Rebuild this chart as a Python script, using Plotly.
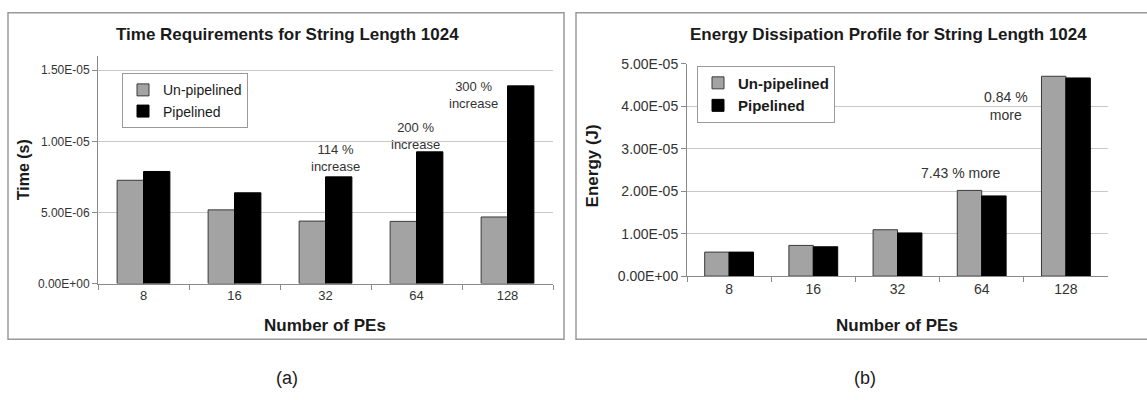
import plotly.graph_objects as go

W, H = 1147, 400

# ---------------- data ----------------
pes = ["8", "16", "32", "64", "128"]

time_unpipelined = [7.26e-6, 5.18e-6, 4.39e-6, 4.37e-6, 4.68e-6]
time_pipelined = [7.88e-6, 6.38e-6, 7.50e-6, 9.26e-6, 13.9e-6]

energy_unpipelined = [5.66e-6, 7.24e-6, 1.093e-5, 2.02e-5, 4.71e-5]
energy_pipelined = [5.66e-6, 6.92e-6, 1.018e-5, 1.89e-5, 4.67e-5]

time_tickvals = [0, 5e-6, 1e-5, 1.5e-5]
time_ticktext = ["0.00E+00", "5.00E-06", "1.00E-05", "1.50E-05"]
energy_tickvals = [0, 1e-5, 2e-5, 3e-5, 4e-5, 5e-5]
energy_ticktext = ["0.00E+00", "1.00E-05", "2.00E-05", "3.00E-05", "4.00E-05", "5.00E-05"]

series_names = ["Un-pipelined", "Pipelined"]

# ---------------- style ----------------
FONT = "Liberation Sans, Arial, sans-serif"
GRAY = "#a3a3a3"
BLACK = "#000000"
OUTLINE = "#3a3a3a"
GRID = "#c9c9c9"
AXIS = "#8a8a8a"
TXT = "#1a1a1a"


def px(x):
    return x / W


def py(y):
    return 1 - y / H


def cat(label):
    return pes.index(label)


fig = go.Figure()

fig.add_trace(go.Bar(x=pes, y=time_unpipelined, name=series_names[0], xaxis="x", yaxis="y",
                     marker=dict(color=GRAY, line=dict(color=OUTLINE, width=1)), legend="legend"))
fig.add_trace(go.Bar(x=pes, y=time_pipelined, name=series_names[1], xaxis="x", yaxis="y",
                     marker=dict(color=BLACK, line=dict(color=BLACK, width=1)), legend="legend"))
fig.add_trace(go.Bar(x=pes, y=energy_unpipelined, name=series_names[0], xaxis="x2", yaxis="y2",
                     marker=dict(color=GRAY, line=dict(color=OUTLINE, width=1)), legend="legend2"))
fig.add_trace(go.Bar(x=pes, y=energy_pipelined, name=series_names[1], xaxis="x2", yaxis="y2",
                     marker=dict(color=BLACK, line=dict(color=BLACK, width=1)), legend="legend2"))

common_x = dict(type="category", showline=True, linecolor=AXIS, linewidth=1,
                ticks="outside", ticklen=5, tickcolor=AXIS, tickson="boundaries",
                showgrid=False, zeroline=False, range=[-0.5, len(pes) - 0.5], tickangle=0)
common_y = dict(showline=True, linecolor=AXIS, linewidth=1, ticks="outside", ticklen=5,
                tickcolor=AXIS, showgrid=True, gridcolor=GRID, gridwidth=1, zeroline=False)


def paper_text(text, x, y, size, angle=0, color=TXT):
    return dict(text=text, x=px(x), y=py(y), xref="paper", yref="paper",
                xanchor="center", yanchor="middle", showarrow=False, textangle=angle,
                font=dict(size=size, color=color))


def data_text(text, label, y, axis, shift, size):
    return dict(text=text, x=cat(label), y=y, xref="x" + axis, yref="y" + axis,
                xanchor="center", yanchor="middle", xshift=shift, showarrow=False,
                font=dict(size=size, color="#333"))


annotations = [
    paper_text("<b>Time Requirements for String Length 1024</b>", 287, 28, 17),
    paper_text("<b>Energy Dissipation Profile for String Length 1024</b>", 888, 28, 17),
    paper_text("<b>Time (s)</b>", 23, 169, 16, angle=-90),
    paper_text("<b>Energy (J)</b>", 592, 165, 17, angle=-90),
    paper_text("<b>Number of PEs</b>", 325, 331, 17),
    paper_text("<b>Number of PEs</b>", 897, 331, 17),
    paper_text("(a)", 287, 385, 18),
    paper_text("(b)", 865, 385, 18),
    data_text("114 %<br>increase", "32", 8.84e-6, "", 10, 13),
    data_text("200 %<br>increase", "64", 1.034e-5, "", -1, 13),
    data_text("300 %<br>increase", "128", 1.328e-5, "", -34, 13),
    data_text("0.84 %<br>more", "128", 4.02e-5, "2", -60, 14),
    data_text("7.43 % more", "64", 2.43e-5, "2", -21, 14),
]

shapes = [
    dict(type="rect", xref="paper", yref="paper", x0=px(8), x1=px(564), y0=py(345), y1=py(5),
         line=dict(color="#9a9a9a", width=1.5)),
    dict(type="rect", xref="paper", yref="paper", x0=px(576), x1=1.05, y0=py(345), y1=py(5),
         line=dict(color="#9a9a9a", width=1.5)),
]

fig.update_layout(
    width=W, height=H,
    margin=dict(l=0, r=0, t=0, b=0),
    paper_bgcolor="white", plot_bgcolor="white",
    font=dict(family=FONT, color=TXT),
    barmode="group", bargap=0.42, bargroupgap=0,
    xaxis=dict(domain=[px(98), px(553)], anchor="y",
               tickfont=dict(size=13, color="#333"), **common_x),
    yaxis=dict(domain=[py(287), py(50)], anchor="x", range=[0, 1.6e-5],
               tickvals=time_tickvals, ticktext=time_ticktext,
               tickfont=dict(size=12, color="#333"), **common_y),
    xaxis2=dict(domain=[px(687), px(1108)], anchor="y2",
                tickfont=dict(size=14, color="#333"), **common_x),
    yaxis2=dict(domain=[py(279.3), py(58.3)], anchor="x2", range=[0, 5e-5],
                tickvals=energy_tickvals, ticktext=energy_ticktext,
                tickfont=dict(size=14, color="#333"), **common_y),
    legend=dict(x=px(122), y=py(68), xanchor="left", yanchor="top",
                bgcolor="white", bordercolor="#9a9a9a", borderwidth=1,
                font=dict(size=14, color=TXT), itemwidth=30, tracegroupgap=0),
    legend2=dict(x=px(697), y=py(60), xanchor="left", yanchor="top",
                 bgcolor="white", bordercolor="#9a9a9a", borderwidth=1,
                 font=dict(size=15, color=TXT, weight="bold"), itemwidth=30, tracegroupgap=0),
    annotations=annotations,
    shapes=shapes,
    showlegend=True,
)

fig.write_html("out.html")
